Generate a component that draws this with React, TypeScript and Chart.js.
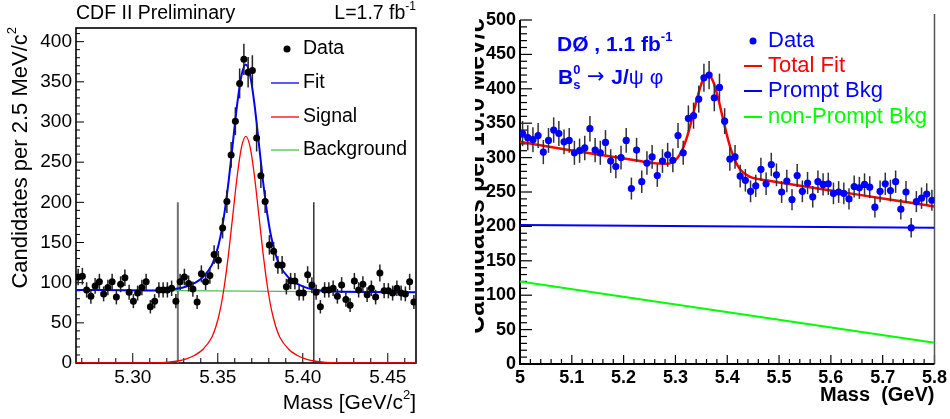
import React, { useEffect, useRef } from "react";
import { Chart, registerables } from "chart.js";

Chart.register(...registerables);

const FONT = '"Liberation Sans", Arial, Helvetica, sans-serif';

// ---------------- Left panel (CDF) ----------------
const LEFT_MIN = 5.2666;
const LEFT_MAX = 5.4666;
const LEFT_BIN = 0.0025;
const LEFT_Y_MAX = 417;
const LEFT_COUNTS = [
  107, 108, 91, 83, 96, 101, 86, 94, 101, 82,
  98, 106, 88, 77, 87, 94, 101, 70, 77, 91,
  91, 91, 93, 77, 101, 107, 99, 92, 76, 111,
  101, 109, 135, 128, 168, 201, 259, 301, 348, 378,
  362, 364, 280, 233, 201, 147, 139, 122, 122, 95,
  102, 102, 87, 87, 110, 97, 88, 70, 91, 91,
  93, 83, 97, 79, 72, 102, 91, 98, 85, 93,
  82, 112, 90, 90, 87, 93, 87, 86, 101, 76,
];
const LEFT_CURVE_MASS = [
  5.2665, 5.3065, 5.3165, 5.3265, 5.3315, 5.3365, 5.3415, 5.3465, 5.349, 5.3515,
  5.354, 5.3565, 5.359, 5.3615, 5.364, 5.3665, 5.369, 5.3715, 5.374, 5.3765,
  5.379, 5.3815, 5.384, 5.3865, 5.3915, 5.3965, 5.4015, 5.4065, 5.4165, 5.4265, 5.4665,
];
const LEFT_FIT = [
  91, 90.4, 90.7, 92.6, 95.2, 99.7, 107.4, 121.8, 135.8, 156.7,
  187.7, 228.7, 276.6, 323.6, 358.5, 371.5, 358.5, 323.4, 276.4, 228.4,
  187.3, 156.3, 135.2, 121.2, 106.6, 98.8, 94.2, 91.4, 89.2, 88.6, 88,
];
const LEFT_SIGNAL = [
  0, 0.05, 0.4, 2.5, 5.2, 9.7, 17.5, 32, 46, 67,
  98, 139, 187, 234, 269, 282, 269, 234, 187, 139,
  98, 67, 46, 32, 17.5, 9.7, 5.2, 2.5, 0.4, 0.05, 0,
];
const LEFT_BKG_MASS = [5.2666, 5.4666];
const LEFT_BKG = [91, 88];
const LEFT_CUT_MASS = [5.3265, 5.4065];
const LEFT_CUT_HEIGHT = 200;
const LEFT_Y_TICKS = [0, 50, 100, 150, 200, 250, 300, 350, 400];
const LEFT_X_TICKS = [5.3, 5.35, 5.4, 5.45];

// ---------------- Right panel (DØ) ----------------
const RIGHT_MIN = 5.0;
const RIGHT_MAX = 5.8;
const RIGHT_BIN = 0.01;
const RIGHT_Y_MAX = 500;
const RIGHT_COUNTS = [
  335, 329, 326, 332, 308, 325, 340, 335, 323, 325,
  307, 310, 314, 342, 311, 307, 322, 295, 287, 300,
  325, 255, 311, 265, 292, 301, 274, 295, 304, 296,
  332, 307, 357, 361, 385, 416, 420, 387, 402, 353,
  298, 301, 273, 267, 251, 259, 283, 262, 290, 275,
  250, 266, 239, 274, 251, 263, 243, 265, 261, 262,
  248, 250, 248, 240, 258, 256, 261, 257, 228, 251,
  262, 252, 265, 225, 250, 198, 236, 241, 247, 238,
];
const RIGHT_CURVE_MASS = [
  5.0, 5.1, 5.213, 5.263, 5.283, 5.303, 5.313, 5.323, 5.333, 5.343,
  5.353, 5.363, 5.373, 5.383, 5.393, 5.403, 5.413, 5.423, 5.443, 5.463,
  5.513, 5.6, 5.7, 5.8,
];
const RIGHT_TOTAL = [
  323, 310.4, 297.2, 291.6, 290.9, 298.7, 311.0, 331.6, 359.4, 389.3,
  412.7, 420.8, 410.3, 384.7, 352.4, 322.3, 299.4, 284.7, 272.3, 268.4,
  262.4, 252.3, 240.6, 229,
];
const RIGHT_BKG_MASS = [5.0, 5.8];
const RIGHT_PROMPT = [202, 198];
const RIGHT_NONPROMPT = [120, 31];
const RIGHT_Y_TICKS = [0, 50, 100, 150, 200, 250, 300, 350, 400, 450, 500];
const RIGHT_X_TICKS = [5.0, 5.1, 5.2, 5.3, 5.4, 5.5, 5.6, 5.7, 5.8];

// ---------------- text helpers ----------------
type Seg = {
  t: string;
  size: number;
  bold?: boolean;
  dy?: number;
  color?: string;
  noAdv?: boolean;
  family?: string;
};
const segFont = (s: Seg) => `${s.bold ? "bold " : ""}${s.size}px ${s.family || FONT}`;

function segsWidth(ctx: CanvasRenderingContext2D, segs: Seg[]) {
  let w = 0;
  for (const s of segs) {
    if (s.noAdv) continue;
    ctx.font = segFont(s);
    w += ctx.measureText(s.t).width;
  }
  return w;
}

function drawSegs(
  ctx: CanvasRenderingContext2D,
  segs: Seg[],
  x: number,
  y: number,
  align: "left" | "right" | "center",
  color: string
) {
  const w = segsWidth(ctx, segs);
  let cx = align === "right" ? x - w : align === "center" ? x - w / 2 : x;
  ctx.textBaseline = "middle";
  ctx.textAlign = "left";
  for (const s of segs) {
    ctx.font = segFont(s);
    ctx.fillStyle = s.color || color;
    ctx.fillText(s.t, cx, y + (s.dy || 0));
    if (!s.noAdv) cx += ctx.measureText(s.t).width;
  }
}

function drawRotatedSegs(ctx: CanvasRenderingContext2D, segs: Seg[], cx: number, topY: number, color: string) {
  ctx.save();
  ctx.translate(cx, topY);
  ctx.rotate(-Math.PI / 2);
  drawSegs(ctx, segs, 0, 0, "right", color);
  ctx.restore();
}

function line(ctx: CanvasRenderingContext2D, x1: number, y1: number, x2: number, y2: number) {
  ctx.beginPath();
  ctx.moveTo(x1, y1);
  ctx.lineTo(x2, y2);
  ctx.stroke();
}

// error bars drawn just before the data dataset
const errorBarPlugin = {
  id: "errorBars",
  beforeDatasetDraw(chart: any, args: any) {
    const ds = chart.data.datasets[args.index];
    if (!ds.errorBars) return;
    const meta = chart.getDatasetMeta(args.index);
    const ys = chart.scales.y;
    const ctx = chart.ctx as CanvasRenderingContext2D;
    ctx.save();
    ctx.strokeStyle = ds.errorColor;
    ctx.lineWidth = ds.errorWidth;
    ds.data.forEach((p: any, i: number) => {
      const el = meta.data[i];
      const err = Math.sqrt(p.y);
      line(ctx, el.x, ys.getPixelForValue(p.y - err), el.x, ys.getPixelForValue(p.y + err));
    });
    ctx.restore();
  },
};

// ---------------- left decorations ----------------
const leftDecor = {
  id: "leftDecor",
  beforeDatasetsDraw(chart: any) {
    const ctx = chart.ctx as CanvasRenderingContext2D;
    const { left, right, top, bottom } = chart.chartArea;
    const xs = chart.scales.x;
    const ys = chart.scales.y;
    ctx.save();
    ctx.strokeStyle = "#000";
    ctx.lineWidth = 1;
    for (const v of LEFT_X_TICKS) {
      const px = xs.getPixelForValue(v);
      line(ctx, px, bottom, px, bottom - 10);
    }
    for (let k = Math.ceil(LEFT_MIN * 100); k / 100 <= LEFT_MAX; k++) {
      if (k % 5 === 0) continue;
      const px = xs.getPixelForValue(k / 100);
      line(ctx, px, bottom, px, bottom - 5);
    }
    for (const v of LEFT_Y_TICKS) {
      const py = ys.getPixelForValue(v);
      line(ctx, left, py, left + 8, py);
    }
    for (let k = 0; k * 10 <= LEFT_Y_MAX; k++) {
      if (k % 5 === 0) continue;
      const py = ys.getPixelForValue(k * 10);
      line(ctx, left, py, left + 4, py);
    }
    ctx.lineWidth = 1.6;
    ctx.strokeRect(left, top, right - left, bottom - top);
    ctx.restore();
  },
  afterDraw(chart: any) {
    const ctx = chart.ctx as CanvasRenderingContext2D;
    const { left, right, bottom } = chart.chartArea;
    ctx.save();
    drawSegs(ctx, [{ t: "CDF II Preliminary", size: 19.5 }], left, 14, "left", "#000");
    drawSegs(
      ctx,
      [
        { t: "L=1.7 fb", size: 19.5 },
        { t: "-1", size: 12, dy: -7 },
      ],
      right,
      14,
      "right",
      "#000"
    );
    drawRotatedSegs(
      ctx,
      [
        { t: "Candidates per 2.5 MeV/c", size: 22 },
        { t: "2", size: 13, dy: -9 },
      ],
      21,
      27,
      "#000"
    );
    drawSegs(
      ctx,
      [
        { t: "Mass [GeV/c", size: 21 },
        { t: "2", size: 13, dy: -8 },
        { t: "]", size: 21 },
      ],
      right,
      bottom + 40,
      "right",
      "#000"
    );
    // legend
    const lx1 = 271, lx2 = 299, tx = 303;
    ctx.fillStyle = "#000";
    ctx.beginPath();
    ctx.arc(287, 49, 3.5, 0, Math.PI * 2);
    ctx.fill();
    drawSegs(ctx, [{ t: "Data", size: 19.5 }], tx, 49, "left", "#000");
    const rows: [string, string, number][] = [
      ["Fit", "#0000ff", 83],
      ["Signal", "#ff0000", 117],
      ["Background", "#4cc24c", 150],
    ];
    for (const [label, color, y] of rows) {
      ctx.strokeStyle = color;
      ctx.lineWidth = 1.3;
      line(ctx, lx1, y, lx2, y);
      drawSegs(ctx, [{ t: label, size: 19.5 }], tx, y, "left", "#000");
    }
    ctx.restore();
  },
};

// ---------------- right decorations ----------------
const rightDecor = {
  id: "rightDecor",
  beforeDatasetsDraw(chart: any) {
    const ctx = chart.ctx as CanvasRenderingContext2D;
    const { left, right, top, bottom } = chart.chartArea;
    const xs = chart.scales.x;
    const ys = chart.scales.y;
    ctx.save();
    ctx.strokeStyle = "#000";
    ctx.lineWidth = 1.2;
    for (const v of RIGHT_X_TICKS) {
      const px = xs.getPixelForValue(v);
      line(ctx, px, bottom, px, bottom - 9);
    }
    for (let k = 250; k * 0.02 <= RIGHT_MAX + 1e-9; k++) {
      if (k % 5 === 0) continue;
      const px = xs.getPixelForValue(k * 0.02);
      line(ctx, px, bottom, px, bottom - 5);
    }
    for (const v of RIGHT_Y_TICKS) {
      const py = ys.getPixelForValue(v);
      line(ctx, left, py, left + 12, py);
    }
    for (let k = 0; k * 10 <= RIGHT_Y_MAX; k++) {
      if (k % 5 === 0) continue;
      const py = ys.getPixelForValue(k * 10);
      line(ctx, left, py, left + 7, py);
    }
    ctx.strokeStyle = "#555";
    ctx.lineWidth = 1.5;
    line(ctx, right, top - 6, right, bottom);
    ctx.strokeStyle = "#000";
    ctx.lineWidth = 2;
    line(ctx, left, top, left, bottom + 1);
    line(ctx, left - 1, bottom, right, bottom);
    ctx.restore();
  },
  afterDraw(chart: any) {
    const ctx = chart.ctx as CanvasRenderingContext2D;
    const { right, bottom } = chart.chartArea;
    const blue = "#0000ff";
    ctx.save();
    drawSegs(
      ctx,
      [
        { t: "D\u00D8 , 1.1 fb", size: 21, bold: true },
        { t: "-1", size: 13, bold: true, dy: -8 },
      ],
      82,
      45,
      "left",
      blue
    );
    drawSegs(
      ctx,
      [
        { t: "B", size: 21, bold: true },
        { t: "0", size: 13, bold: true, dy: -8, noAdv: true },
        { t: "s", size: 13, bold: true, dy: 7 },
        { t: " \u2192 ", size: 21, family: '"DejaVu Sans", sans-serif' },
        { t: "J/", size: 21, bold: true },
        { t: "\u03C8 \u03C6", size: 21 },
      ],
      83,
      78,
      "left",
      blue
    );
    drawRotatedSegs(
      ctx,
      [
        { t: "Candidates per 10.0 MeV/c", size: 25, bold: true },
        { t: "2", size: 15, bold: true, dy: -10 },
      ],
      2,
      10,
      "#000"
    );
    drawSegs(ctx, [{ t: "Mass  (GeV)", size: 20, bold: true }], right, bottom + 31, "right", "#000");
    // legend
    const lx1 = 269, lx2 = 287, tx = 293;
    ctx.fillStyle = blue;
    ctx.beginPath();
    ctx.arc(278, 41, 3.5, 0, Math.PI * 2);
    ctx.fill();
    drawSegs(ctx, [{ t: "Data", size: 22 }], tx, 41, "left", blue);
    const rows: [string, string, number][] = [
      ["Total Fit", "#ff0000", 66],
      ["Prompt Bkg", blue, 91],
      ["non-Prompt Bkg", "#00ff00", 117],
    ];
    for (const [label, color, y] of rows) {
      ctx.strokeStyle = color;
      ctx.lineWidth = 2;
      line(ctx, lx1, y, lx2, y);
      drawSegs(ctx, [{ t: label, size: 22 }], tx, y, "left", color);
    }
    ctx.restore();
  },
};

function curve(xs: number[], ys: number[]) {
  return xs.map((x, i) => ({ x, y: ys[i] }));
}

function makeLeftConfig(): any {
  return {
    type: "scatter",
    data: {
      datasets: [
        {
          label: "Data",
          data: LEFT_COUNTS.map((y, i) => ({ x: LEFT_MIN + (i + 0.5) * LEFT_BIN, y })),
          showLine: false,
          pointRadius: 3.5,
          pointBackgroundColor: "#000",
          pointBorderWidth: 0,
          errorBars: true,
          errorColor: "#222",
          errorWidth: 1.5,
          order: 0,
        },
        {
          label: "Fit",
          data: curve(LEFT_CURVE_MASS, LEFT_FIT),
          showLine: true,
          borderColor: "#0000ff",
          borderWidth: 2,
          pointRadius: 0,
          cubicInterpolationMode: "monotone",
          order: 1,
        },
        {
          label: "Signal",
          data: curve(LEFT_CURVE_MASS, LEFT_SIGNAL),
          showLine: true,
          borderColor: "#ff0000",
          borderWidth: 1.3,
          pointRadius: 0,
          cubicInterpolationMode: "monotone",
          order: 2,
        },
        {
          label: "Background",
          data: curve(LEFT_BKG_MASS, LEFT_BKG),
          showLine: true,
          borderColor: "#4cc24c",
          borderWidth: 1.3,
          pointRadius: 0,
          order: 3,
        },
        {
          label: "cutLow",
          data: [
            { x: LEFT_CUT_MASS[0], y: 0 },
            { x: LEFT_CUT_MASS[0], y: LEFT_CUT_HEIGHT },
          ],
          showLine: true,
          borderColor: "#707070",
          borderWidth: 2,
          pointRadius: 0,
          order: 4,
        },
        {
          label: "cutHigh",
          data: [
            { x: LEFT_CUT_MASS[1], y: 0 },
            { x: LEFT_CUT_MASS[1], y: LEFT_CUT_HEIGHT },
          ],
          showLine: true,
          borderColor: "#000",
          borderWidth: 1.2,
          pointRadius: 0,
          order: 4,
        },
      ],
    },
    options: {
      animation: false,
      responsive: false,
      events: [],
      layout: { padding: { left: 0, right: 59, top: 28, bottom: 0 } },
      plugins: { legend: { display: false }, tooltip: { enabled: false } },
      scales: {
        x: {
          type: "linear",
          min: LEFT_MIN,
          max: LEFT_MAX,
          grid: { display: false, drawTicks: false },
          border: { display: false },
          afterBuildTicks: (s: any) => {
            s.ticks = LEFT_X_TICKS.map((v) => ({ value: v }));
          },
          afterFit: (s: any) => {
            s.height = 56;
          },
          ticks: {
            font: { family: FONT, size: 19 },
            color: "#000",
            padding: 3,
            maxRotation: 0,
            autoSkip: false,
            callback: (v: any) => Number(v).toFixed(2),
          },
        },
        y: {
          type: "linear",
          min: 0,
          max: LEFT_Y_MAX,
          grid: { display: false, drawTicks: false },
          border: { display: false },
          afterBuildTicks: (s: any) => {
            s.ticks = LEFT_Y_TICKS.map((v) => ({ value: v }));
          },
          afterFit: (s: any) => {
            s.width = 76;
          },
          ticks: {
            font: { family: FONT, size: 19 },
            color: "#000",
            padding: 4,
            callback: (v: any) => String(v),
          },
        },
      },
    },
    plugins: [leftDecor, errorBarPlugin],
  };
}

function makeRightConfig(): any {
  return {
    type: "scatter",
    data: {
      datasets: [
        {
          label: "Data",
          data: RIGHT_COUNTS.map((y, i) => ({ x: RIGHT_MIN + (i + 0.5) * RIGHT_BIN, y })),
          showLine: false,
          pointRadius: 3.6,
          pointBackgroundColor: "#0000ff",
          pointBorderWidth: 0,
          errorBars: true,
          errorColor: "#333",
          errorWidth: 1.5,
          order: 0,
        },
        {
          label: "Total Fit",
          data: curve(RIGHT_CURVE_MASS, RIGHT_TOTAL),
          showLine: true,
          borderColor: "#ff0000",
          borderWidth: 2.5,
          pointRadius: 0,
          cubicInterpolationMode: "monotone",
          order: 1,
        },
        {
          label: "Prompt Bkg",
          data: curve(RIGHT_BKG_MASS, RIGHT_PROMPT),
          showLine: true,
          borderColor: "#0000ff",
          borderWidth: 2,
          pointRadius: 0,
          order: 2,
        },
        {
          label: "non-Prompt Bkg",
          data: curve(RIGHT_BKG_MASS, RIGHT_NONPROMPT),
          showLine: true,
          borderColor: "#00ff00",
          borderWidth: 2,
          pointRadius: 0,
          order: 3,
        },
      ],
    },
    options: {
      animation: false,
      responsive: false,
      events: [],
      layout: { padding: { left: 0, right: 15, top: 20, bottom: 0 } },
      plugins: { legend: { display: false }, tooltip: { enabled: false } },
      scales: {
        x: {
          type: "linear",
          min: RIGHT_MIN,
          max: RIGHT_MAX,
          grid: { display: false, drawTicks: false },
          border: { display: false },
          afterBuildTicks: (s: any) => {
            s.ticks = RIGHT_X_TICKS.map((v) => ({ value: v }));
          },
          afterFit: (s: any) => {
            s.height = 55;
          },
          ticks: {
            font: { family: FONT, size: 18, weight: "bold" },
            color: "#000",
            padding: 3,
            maxRotation: 0,
            autoSkip: false,
            callback: (v: any) => String(Math.round(Number(v) * 10) / 10),
          },
        },
        y: {
          type: "linear",
          min: 0,
          max: RIGHT_Y_MAX,
          grid: { display: false, drawTicks: false },
          border: { display: false },
          afterBuildTicks: (s: any) => {
            s.ticks = RIGHT_Y_TICKS.map((v) => ({ value: v }));
          },
          afterFit: (s: any) => {
            s.width = 45;
          },
          ticks: {
            font: { family: FONT, size: 18, weight: "bold" },
            color: "#000",
            padding: 4,
            callback: (v: any) => String(v),
          },
        },
      },
    },
    plugins: [rightDecor, errorBarPlugin],
  };
}

export default function App() {
  const leftRef = useRef<HTMLCanvasElement>(null);
  const rightRef = useRef<HTMLCanvasElement>(null);

  useEffect(() => {
    const c1 = new Chart(leftRef.current as HTMLCanvasElement, makeLeftConfig());
    const c2 = new Chart(rightRef.current as HTMLCanvasElement, makeRightConfig());
    return () => {
      c1.destroy();
      c2.destroy();
    };
  }, []);

  return (
    <div
      style={{
        position: "absolute",
        left: 0,
        top: 0,
        width: 950,
        height: 419,
        display: "flex",
        background: "#fff",
      }}
    >
      <div style={{ width: 475, height: 419 }}>
        <canvas ref={leftRef} width={475} height={419} style={{ display: "block" }} />
      </div>
      <div style={{ width: 475, height: 419 }}>
        <canvas ref={rightRef} width={475} height={419} style={{ display: "block" }} />
      </div>
    </div>
  );
}
